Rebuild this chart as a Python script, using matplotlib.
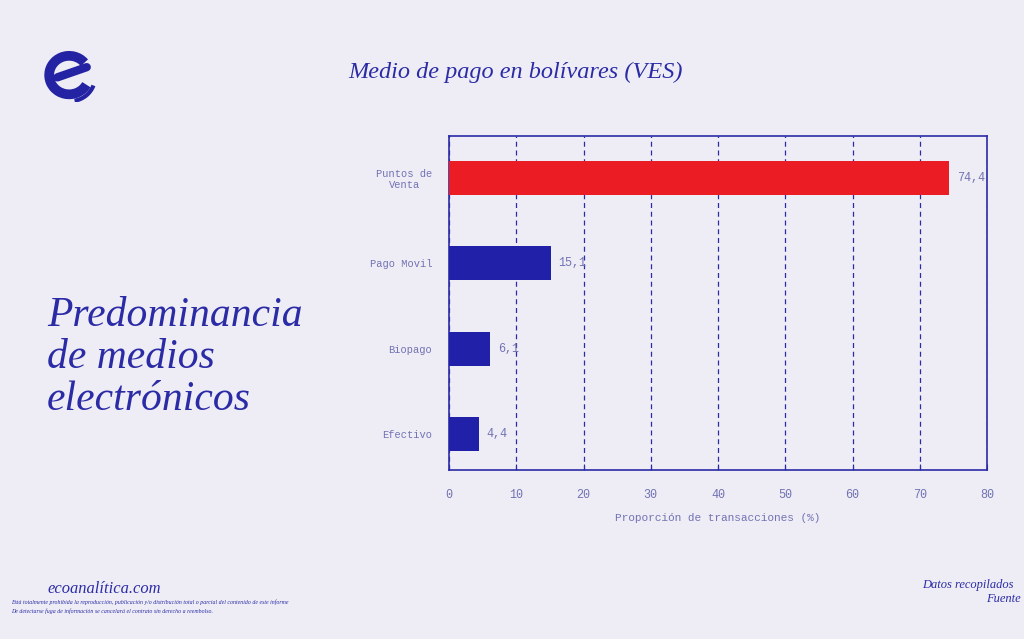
import numpy as np
import matplotlib.pyplot as plt
from matplotlib.patches import Arc

categories = ["Puntos de\nVenta", "Pago Movil", "Biopago", "Efectivo"]
values = [74.4, 15.1, 6.1, 4.4]
value_labels = ["74,4", "15,1", "6,1", "4,4"]
bar_colors = ["#ec1c24", "#2020a8", "#2020a8", "#2020a8"]
xticks = [0, 10, 20, 30, 40, 50, 60, 70, 80]

bg = "#eeedf5"
blue = "#2b2ba6"
light = "#7272b4"
mono = "Liberation Mono"
serif = "Liberation Serif"

fig = plt.figure(figsize=(10.24, 6.39), dpi=100, facecolor=bg)
ax = fig.add_axes([0.4385, 0.2645, 0.5254, 0.5227], facecolor=bg)

y = np.arange(len(categories))
ax.barh(y, values, height=0.4, color=bar_colors, zorder=3)
for yi, v, lab in zip(y, values, value_labels):
    ax.text(v + 1.2, yi, lab, va="center", ha="left", fontsize=8.5,
            family=mono, color=light)

ax.set_xlim(0, 80)
ax.set_ylim(3.42, -0.49)
ax.set_yticks(y)
ax.set_yticklabels(categories, family=mono, fontsize=7.5, color=light,
                   ha="right", multialignment="center")
ax.set_xticks(xticks)
ax.set_xticklabels([str(t) for t in xticks], family=mono, fontsize=8.5, color=light)
ax.tick_params(axis="y", length=0, pad=12)
ax.tick_params(axis="x", length=4, color=blue, direction="in", pad=14)
ax.xaxis.grid(True, linestyle=(0, (4, 3)), color=blue, linewidth=0.9, zorder=0)
for s in ax.spines.values():
    s.set_color(blue)
    s.set_linewidth(1.2)
ax.set_xlabel("Proporción de transacciones (%)", family=mono, fontsize=8,
              color=light, labelpad=8)

fig.text(0.503, 0.887, "Medio de pago en bolívares (VES)", family=serif,
         style="italic", fontsize=17.5, color=blue, ha="center", va="center")

fig.text(0.046, 0.44, "Predominancia\nde medios\nelectrónicos", family=serif,
         style="italic", fontsize=30, color=blue, ha="left", va="center",
         linespacing=1.13)

# logo
lax = fig.add_axes([0.04, 0.84, 0.055, 0.085])
lax.set_xlim(-1.2, 1.2)
lax.set_ylim(-1.2, 1.2)
lax.axis("off")
lax.add_patch(Arc((0, 0), 1.7, 1.7, theta1=40, theta2=330, lw=7, color="#2323a3"))
lax.plot([-0.5, 0.75], [-0.1, 0.35], color="#2323a3", lw=6, solid_capstyle="round")
lax.add_patch(Arc((0.05, -0.1), 2.1, 2.1, theta1=-80, theta2=-20, lw=3, color="#2323a3"))

# footer: reference width ~113 px (x 47-160)
fig.text(0.046, 0.079, "ecoanalítica.com", family=serif, style="italic",
         fontsize=11.9, color=blue, ha="left", va="center")
fig.text(0.011, 0.057, "Está totalmente prohibida la reproducción, publicación y/o distribución total o parcial del contenido de este informe",
         family=serif, style="italic", fontsize=4.2, color=blue, ha="left", va="center")
fig.text(0.011, 0.044, "De detectarse fuga de información se cancelará el contrato sin derecho a reembolso.",
         family=serif, style="italic", fontsize=4.2, color=blue, ha="left", va="center")
fig.text(0.99, 0.085, "Datos recopilados", family=serif, style="italic",
         fontsize=9, color=blue, ha="right", va="center")
fig.text(0.997, 0.062, "Fuente", family=serif, style="italic",
         fontsize=9, color=blue, ha="right", va="center")

fig.savefig("out.png", dpi=100, facecolor=bg)
